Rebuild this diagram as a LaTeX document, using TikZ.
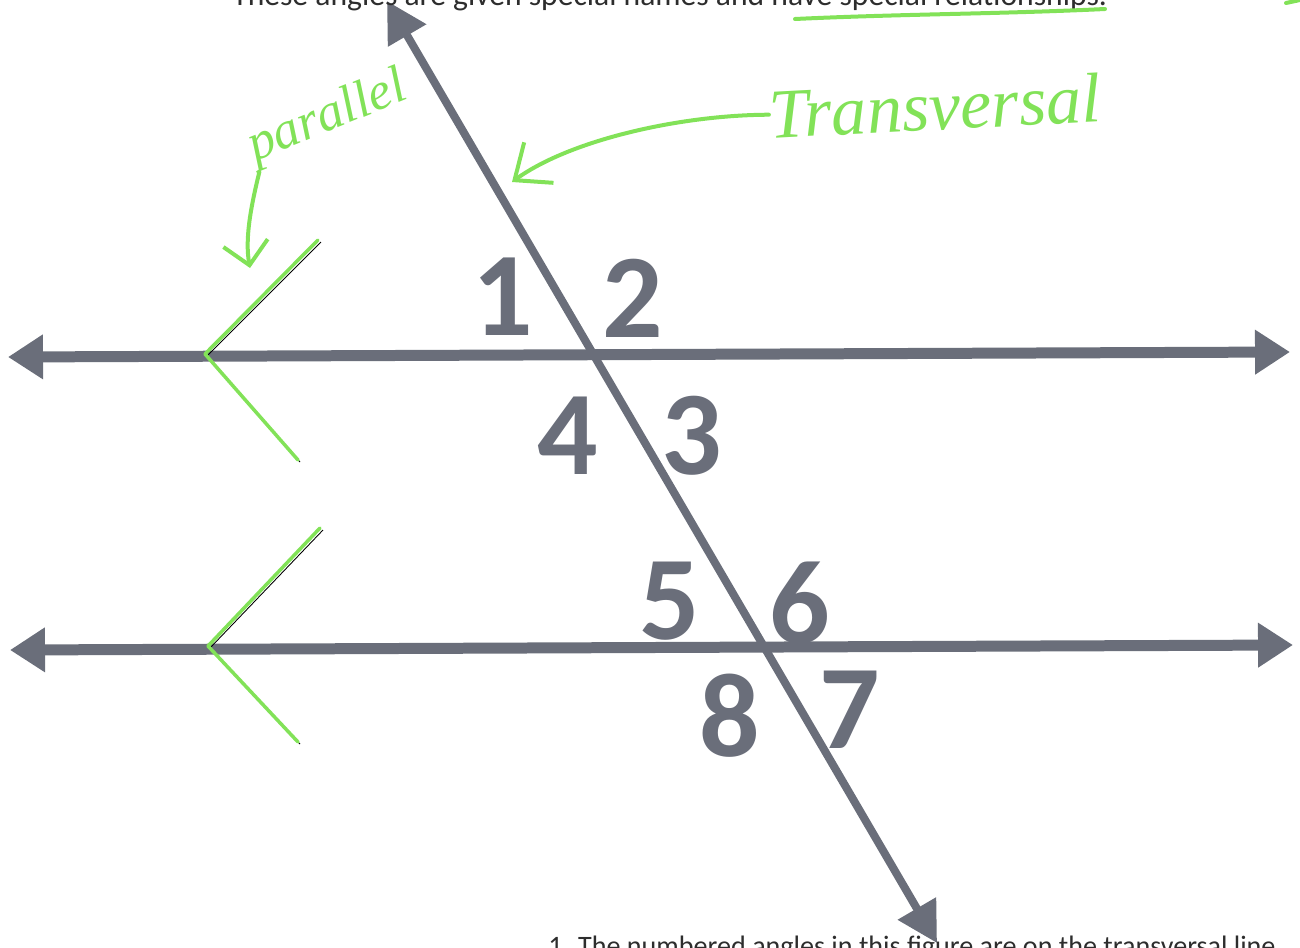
\documentclass[tikz,border=0pt]{standalone}
\usepackage{fontspec}
\setmainfont{Carlito}
\newfontfamily\handfont{Liberation Serif}
\usepackage{tikz}
\usetikzlibrary{arrows.meta}
\definecolor{linegray}{RGB}{106,110,122}
\definecolor{markgreen}{RGB}{130,226,88}
\definecolor{textgray}{RGB}{45,45,45}

\begin{document}
\begin{tikzpicture}[x=0.02cm, y=-0.02cm,
    ray/.style={draw=linegray, line width=0.22cm, arrows={Triangle[length=0.7cm,width=0.85cm]-Triangle[length=0.7cm,width=0.85cm]}},
    cut/.style={draw=linegray, line width=0.16cm, arrows={Triangle[length=0.8cm,width=0.85cm]-Triangle[length=0.8cm,width=0.85cm]}},
    num/.style={text=linegray, inner sep=0pt, font=\fontsize{68}{70}\selectfont\bfseries},
    hand/.style={draw=markgreen, line width=0.08cm, line cap=round, line join=round},
    handtext/.style={text=markgreen, inner sep=0pt}]
    \useasboundingbox (0,0) rectangle (1300,947);
    \coordinate (upL) at (8,357);
    \coordinate (upR) at (1290,352);
    \coordinate (loL) at (10,650);
    \coordinate (loR) at (1293,645);
    \coordinate (tTop) at (387,1);
    \coordinate (tBot) at (937,943);
    \draw[ray] (upL) -- (upR);
    \draw[ray] (loL) -- (loR);
    \draw[cut] (tTop) -- (tBot);

    \node[num] (n1) at (503,297) {1};
    \node[num] (n2) at (633,298) {2};
    \node[num] (n3) at (692,436) {3};
    \node[num] (n4) at (568,436) {4};
    \node[num] (n5) at (670,601) {5};
    \node[num] (n6) at (800,603) {6};
    \node[num] (n7) at (850,710) {7};
    \node[num] (n8) at (730,716) {8};

    \node[anchor=base west, text=textgray, inner sep=0pt, font=\fontsize{18}{20}\selectfont] (heading) at (232,5)
        {These angles are given special names and have special relationships.};
    \node[anchor=base west, text=textgray, inner sep=0pt, font=\fontsize{16}{18}\selectfont] (question) at (548,955)
        {1. The numbered angles in this figure are on the transversal line.};
    \draw[hand] (795,19) .. controls (900,14) and (1000,14) .. (1105,9);
    \draw[hand] (1286,3) -- (1300,0);

    \node[handtext, font=\handfont\itshape\fontsize{40}{44}\selectfont, rotate=3] (transversal) at (935,106) {Transversal};
    \coordinate (tvmark) at (512,182);
    \draw[hand, -{Straight Barb[length=0.6cm,width=1cm]}] (transversal.west) .. controls (680,115) and (570,140) .. (tvmark);

    \node[handtext, font=\handfont\itshape\fontsize{30}{32}\selectfont, rotate=22] (parallel) at (328,118) {parallel};
    \coordinate (pmark) at (250,268);
    \draw[hand, -{Straight Barb[length=0.45cm,width=0.9cm]}] (parallel.south west) .. controls (250,210) and (245,240) .. (pmark);

    \draw[black, line width=0.5pt] (321,242) -- (207,356) -- (300,462);
    \draw[hand, line width=0.07cm] (318,240) -- (205,354) -- (298,460);
    \draw[black, line width=0.5pt] (323,530) -- (210,648) -- (300,744);
    \draw[hand, line width=0.07cm] (320,528) -- (208,646) -- (298,742);
\end{tikzpicture}
\end{document}
